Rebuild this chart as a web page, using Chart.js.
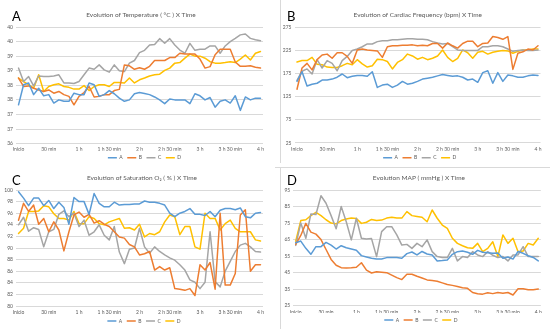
<!DOCTYPE html>
<html>
<head>
<meta charset="utf-8">
<script src="https://cdn.jsdelivr.net/npm/chart.js@4.4.1/dist/chart.umd.min.js"></script>
<style>
  html, body { margin: 0; padding: 0; background: #fff; }
  #page { position: relative; width: 550px; height: 335px; overflow: hidden; font-family: Lato, 'Liberation Sans', sans-serif; }
  .panel { position: absolute; }
  .panel canvas { display: block; }
  .tag { position: absolute; font-size: 13px; line-height: 13px; color: #000; }
  .rule { position: absolute; background: #d9d9d9; }
</style>
</head>
<body>
<div id="page">
  <div class="rule" style="left:280px;top:0;width:1px;height:163px"></div>
  <div class="rule" style="left:275px;top:167px;width:275px;height:1px"></div>
  <div class="rule" style="left:280px;top:168px;width:1px;height:161px"></div>

  <div class="panel" style="left:0;top:0"><canvas id="chart-temp" width="275" height="165"></canvas></div>
  <div class="panel" style="left:275px;top:0"><canvas id="chart-heart" width="275" height="165"></canvas></div>
  <div class="panel" style="left:0;top:165px"><canvas id="chart-sat" width="275" height="170"></canvas></div>
  <div class="panel" style="left:275px;top:165px"><canvas id="chart-map" width="275" height="170"></canvas></div>

  <div class="tag" style="left:12px;top:10px">A</div>
  <div class="tag" style="left:287px;top:10px">B</div>
  <div class="tag" style="left:12px;top:174px">C</div>
  <div class="tag" style="left:287px;top:174px">D</div>
</div>

<script>
// Shared time axis: one reading every 5 min, a label every 30 min
const tickLabels = ['Inicio', '30 min', '1 h', '1 h 30 min', '2 h', '2 h 30 min', '3 h', '3 h 30 min', '4 h'];
const readingsPerTick = 6;
const seriesNames = ['A', 'B', 'C', 'D'];
const seriesColors = ['#5B9BD5', '#ED7D31', '#A5A5A5', '#FFC000'];

// Temperature (°C)
const tempA = [37.33, 38.02, 38.08, 37.68, 37.9, 37.64, 37.68, 37.39, 37.5, 37.45, 37.45, 37.73, 37.68, 37.68, 38.08, 38.02, 37.62, 37.68, 37.82, 37.71, 37.56, 37.45, 37.5, 37.71, 37.75, 37.72, 37.68, 37.6, 37.5, 37.37, 37.53, 37.5, 37.5, 37.5, 37.37, 37.71, 37.64, 37.5, 37.58, 37.25, 37.45, 37.5, 37.39, 37.64, 37.14, 37.6, 37.5, 37.56, 37.56];
const tempB = [38.25, 37.96, 37.98, 37.9, 37.84, 37.79, 37.84, 37.73, 37.79, 37.68, 37.62, 37.33, 37.62, 37.75, 37.96, 37.6, 37.62, 37.68, 37.68, 37.82, 37.86, 38.7, 38.67, 38.55, 38.6, 38.55, 38.65, 38.85, 38.85, 38.85, 38.95, 38.95, 39.1, 39.07, 39.07, 39.07, 38.9, 38.59, 38.64, 39.05, 39.24, 39.24, 39.24, 38.8, 38.65, 38.65, 38.67, 38.62, 38.59];
const tempC = [38.59, 38.13, 38.3, 37.98, 38.32, 38.3, 38.3, 38.32, 38.36, 38.08, 38.08, 38.06, 38.13, 38.36, 38.59, 38.55, 38.7, 38.53, 38.45, 38.7, 38.5, 38.47, 38.76, 38.85, 39.12, 39.2, 39.38, 39.4, 39.6, 39.44, 39.6, 39.38, 39.21, 39.1, 39.44, 39.2, 39.24, 39.24, 39.35, 39.35, 39.1, 39.35, 39.5, 39.61, 39.73, 39.76, 39.61, 39.56, 39.53];
const tempD = [38.25, 38.13, 38.02, 37.9, 38.36, 37.79, 37.96, 38.02, 38.05, 37.96, 37.93, 37.87, 37.87, 37.99, 37.82, 37.96, 38.02, 38.02, 37.96, 38.1, 38.1, 38.08, 38.25, 38.08, 38.19, 38.25, 38.32, 38.36, 38.38, 38.51, 38.59, 38.76, 38.78, 38.93, 39.07, 39.0, 39.0, 38.93, 38.81, 38.76, 38.76, 38.78, 38.81, 38.78, 38.9, 39.04, 38.87, 39.1, 39.16];

// Cardiac frequency (bpm)
const heartA = [158, 179, 148, 152, 154, 161, 161, 163, 167, 174, 166, 169, 171, 171, 169, 179, 145, 150, 152, 145, 150, 158, 152, 154, 158, 163, 165, 167, 170, 173, 171, 169, 170, 167, 161, 163, 156, 177, 181, 154, 177, 158, 172, 170, 167, 167, 170, 172, 171];
const heartB = [141, 187, 197, 183, 205, 215, 217, 208, 220, 220, 212, 197, 226, 228, 226, 225, 224, 210, 233, 235, 235, 236, 236, 237, 235, 236, 235, 240, 240, 230, 241, 235, 230, 240, 245, 245, 233, 240, 241, 255, 253, 249, 255, 184, 219, 222, 228, 226, 235];
const heartC = [160, 180, 185, 174, 205, 187, 203, 197, 181, 203, 212, 225, 228, 233, 239, 239, 244, 246, 246, 248, 248, 249, 250, 250, 249, 249, 248, 244, 241, 239, 240, 233, 226, 225, 225, 225, 225, 233, 233, 235, 235, 233, 228, 223, 225, 226, 225, 225, 226];
const heartD = [200, 203, 203, 210, 195, 194, 189, 188, 188, 192, 197, 194, 205, 196, 189, 192, 206, 205, 201, 185, 199, 205, 217, 213, 206, 210, 205, 208, 213, 226, 210, 201, 208, 226, 220, 208, 221, 223, 217, 221, 223, 225, 224, 219, 223, 226, 226, 228, 228];

// Saturation O2 (%)
const satA = [99.7, 98.6, 97.3, 98.6, 98.6, 97.3, 98.2, 96.8, 97.9, 97.0, 94.1, 98.7, 98.0, 98.0, 95.8, 99.4, 97.7, 97.1, 97.1, 97.9, 97.4, 97.5, 97.5, 97.6, 97.6, 98.1, 97.9, 97.9, 97.7, 97.4, 96.0, 95.4, 96.0, 96.3, 96.8, 95.8, 95.8, 95.6, 96.3, 95.4, 96.5, 96.8, 96.8, 96.6, 96.9, 95.4, 95.2, 96.0, 96.1];
const satB = [94.8, 97.7, 96.3, 97.4, 94.1, 95.1, 92.8, 94.5, 93.1, 89.5, 92.8, 95.7, 96.2, 95.3, 95.8, 94.3, 94.7, 94.1, 93.7, 92.8, 91.9, 91.7, 90.6, 90.2, 88.8, 89.0, 89.4, 86.2, 86.8, 86.2, 86.6, 83.0, 82.9, 82.7, 83.0, 81.8, 87.1, 86.2, 87.5, 82.9, 96.0, 83.6, 83.6, 85.6, 95.7, 96.6, 86.0, 87.1, 87.1];
const satC = [94.0, 95.3, 92.9, 93.5, 93.2, 90.2, 92.8, 93.2, 95.8, 96.4, 95.4, 96.0, 93.7, 94.8, 92.2, 92.8, 94.0, 92.2, 91.4, 93.7, 89.3, 87.3, 89.8, 90.0, 93.4, 90.2, 89.1, 90.2, 89.4, 88.8, 88.3, 87.9, 87.1, 86.2, 84.5, 84.1, 83.0, 84.1, 92.8, 84.2, 83.3, 86.0, 87.7, 89.4, 90.5, 90.8, 90.2, 89.4, 89.3];
const satD = [92.5, 93.4, 96.3, 96.3, 96.4, 97.3, 97.1, 95.9, 95.1, 95.1, 94.8, 96.3, 94.2, 94.2, 95.4, 95.1, 94.2, 94.0, 94.5, 94.8, 95.1, 93.4, 93.5, 93.1, 94.1, 91.9, 92.5, 92.3, 92.8, 94.5, 95.7, 95.4, 92.3, 93.7, 93.7, 90.2, 89.8, 96.0, 95.1, 95.1, 93.1, 94.2, 94.8, 93.4, 92.8, 92.8, 92.8, 91.4, 91.2];

// MAP (mmHg)
const mapA = [63.1, 64.1, 59.7, 56.1, 60.7, 60.7, 63.3, 61.7, 59.3, 61.3, 60.1, 59.3, 58.5, 55.3, 54.5, 53.7, 53.2, 53.2, 54.1, 54.1, 54.1, 53.7, 56.5, 57.5, 55.7, 57.8, 56.3, 55.7, 52.1, 52.3, 52.7, 56.1, 57.7, 58.1, 57.3, 56.1, 58.5, 57.3, 57.0, 56.7, 56.9, 53.7, 54.5, 53.2, 57.8, 56.7, 55.2, 54.2, 52.1];
const mapB = [62.1, 67.5, 74.8, 69.5, 68.3, 65.0, 59.0, 53.0, 49.5, 48.0, 47.8, 48.0, 48.3, 51.0, 46.5, 44.8, 45.6, 45.3, 45.0, 43.5, 42.0, 40.8, 44.0, 44.0, 42.8, 41.8, 40.6, 40.2, 39.8, 38.8, 37.8, 37.3, 36.6, 35.8, 35.5, 33.0, 32.2, 32.0, 32.8, 32.3, 33.0, 32.6, 33.0, 31.5, 35.2, 35.3, 34.6, 34.6, 35.1];
const mapC = [61.5, 75.0, 65.8, 80.5, 80.2, 91.5, 87.0, 79.5, 71.5, 85.0, 75.8, 64.8, 77.9, 65.8, 65.4, 65.6, 54.7, 69.8, 72.8, 72.8, 67.8, 61.7, 62.1, 59.7, 62.7, 60.7, 64.8, 57.7, 54.7, 54.1, 54.1, 59.7, 52.1, 54.7, 54.1, 57.7, 55.7, 54.7, 57.7, 55.5, 54.1, 54.7, 52.1, 55.7, 55.7, 60.7, 54.7, 54.7, 54.7];
const mapD = [64.0, 76.5, 77.0, 79.5, 81.5, 79.5, 77.0, 75.0, 74.5, 76.5, 77.5, 78.0, 77.8, 74.8, 75.5, 77.2, 76.5, 76.8, 78.0, 78.5, 78.0, 78.0, 81.9, 79.5, 79.0, 78.5, 75.8, 82.9, 77.9, 73.8, 71.8, 65.8, 62.7, 61.3, 60.1, 59.7, 62.7, 57.7, 59.7, 63.7, 54.7, 67.8, 62.7, 65.8, 57.7, 58.1, 62.7, 61.7, 65.8];

// Category labels: blank between the 30 min marks
const timeLabels = tempA.map((_, i) => (i % readingsPerTick === 0 ? tickLabels[i / readingsPerTick] : ''));

Chart.defaults.font.family = "Lato, 'Liberation Sans', sans-serif";
Chart.defaults.color = '#595959';

const TICK_FONT = 5;
const TITLE_FONT = 6.5;

/**
 * Move title / legend sideways after layout (Excel centres them on the whole picture)
 */
const nudgePlugin = {
  id: 'nudge',
  afterLayout(chart, args, opts) {
    if (chart.titleBlock) {
      chart.titleBlock.left += opts.title;
      chart.titleBlock.right += opts.title;
    }
    if (chart.legend) {
      chart.legend.left += opts.legend;
      chart.legend.right += opts.legend;
    }
  },
};

/**
 * Build one of the four line charts
 */
function renderPanel(canvasId, cfg) {
  const canvas = document.getElementById(canvasId);

  const datasets = cfg.series.map((values, i) => ({
    label: seriesNames[i],
    data: values,
    borderColor: seriesColors[i],
    backgroundColor: seriesColors[i],
    borderWidth: 1.5,
    pointRadius: 0,
    tension: 0,
    borderJoinStyle: 'round',
    borderCapStyle: 'round',
  }));

  return new Chart(canvas, {
    type: 'line',
    data: { labels: timeLabels, datasets },
    plugins: [nudgePlugin],
    options: {
      responsive: false,
      animation: false,
      devicePixelRatio: 1,
      layout: { padding: { left: 0, right: cfg.padRight, top: 0, bottom: cfg.padBottom } },
      plugins: {
        nudge: { title: cfg.titleShift, legend: cfg.legendShift },
        tooltip: { enabled: false },
        title: {
          display: true,
          text: cfg.title,
          color: '#595959',
          font: { size: TITLE_FONT, weight: 'normal' },
          padding: { top: cfg.titleTop, bottom: cfg.titleBottom },
        },
        legend: {
          position: 'bottom',
          labels: {
            usePointStyle: true,
            pointStyle: 'line',
            pointStyleWidth: 9,
            padding: 4.5,
            color: '#595959',
            font: { size: TICK_FONT },
          },
        },
      },
      scales: {
        x: {
          offset: true,
          grid: { display: false, drawTicks: false },
          border: { display: false },
          ticks: { autoSkip: false, maxRotation: 0, padding: cfg.xPad, font: { size: TICK_FONT } },
          afterFit: (scale) => { scale.height = cfg.xHeight; },
        },
        y: {
          min: cfg.yMin,
          max: cfg.yMax,
          grid: { color: '#d9d9d9', drawTicks: false },
          border: { display: false },
          ticks: {
            stepSize: cfg.yStep,
            padding: 3,
            font: { size: TICK_FONT },
            callback: cfg.yFormat || ((v) => v),
          },
          afterFit: (scale) => { scale.width = cfg.yWidth; },
        },
      },
    },
  });
}

renderPanel('chart-temp', {
  title: 'Evolution of Temperature ( °C ) X Time',
  series: [tempA, tempB, tempC, tempD],
  yMin: 36, yMax: 40, yStep: 0.5, yFormat: (v) => Math.round(v),
  yWidth: 16, padRight: 12, padBottom: -5.3,
  titleTop: 11, titleBottom: 8.2, xHeight: 7.2, xPad: 3,
  titleShift: 9.5, legendShift: 13,
});

renderPanel('chart-heart', {
  title: 'Evolution of Cardiac Frequency (bpm) X Time',
  series: [heartA, heartB, heartC, heartD],
  yMin: 25, yMax: 275, yStep: 50,
  yWidth: 19.5, padRight: 9.5, padBottom: -5.3,
  titleTop: 11, titleBottom: 8.5, xHeight: 7.9, xPad: 3,
  titleShift: 10, legendShift: 12,
});

renderPanel('chart-sat', {
  title: 'Evolution of Saturation O₂ ( % ) X Time',
  series: [satA, satB, satC, satD],
  yMin: 80, yMax: 100, yStep: 2,
  yWidth: 16, padRight: 12, padBottom: 1.5,
  titleTop: 9, titleBottom: 8.2, xHeight: 8, xPad: 3,
  titleShift: 10.5, legendShift: 12.5,
});

renderPanel('chart-map', {
  title: 'Evolution MAP ( mmHg ) X Time',
  series: [mapA, mapB, mapC, mapD],
  yMin: 25, yMax: 95, yStep: 10,
  yWidth: 18.2, padRight: 9.2, padBottom: 2.5,
  titleTop: 9, titleBottom: 8.2, xHeight: 7.3, xPad: 3.3,
  titleShift: 11, legendShift: 13,
});
</script>
</body>
</html>
